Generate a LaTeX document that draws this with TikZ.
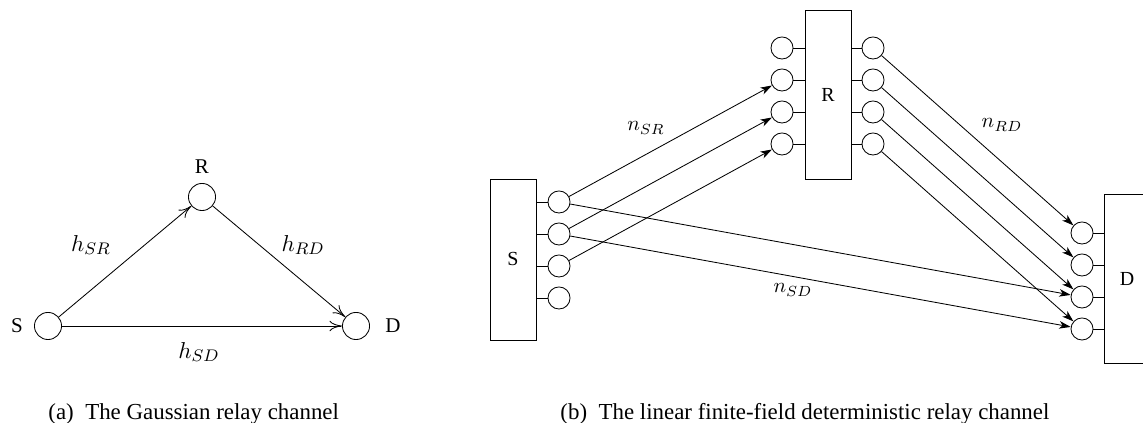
\documentclass[tikz,border=0pt]{standalone}
\usepackage{fontspec}
\setmainfont{Liberation Serif}
\usetikzlibrary{arrows.meta}

\begin{document}
\begin{tikzpicture}[x=0.476pt,y=0.476pt,
  bigdot/.style={draw,circle,inner sep=0pt,minimum size=12.9pt},
  smalldot/.style={draw,circle,inner sep=0pt,minimum size=10.5pt},
  blockbox/.style={draw,inner sep=0pt,minimum width=21.9pt,font=\fontsize{9.5}{11}\selectfont},
  gainlabel/.style={font=\fontsize{11}{13}\selectfont},
  levellabel/.style={font=\fontsize{10}{12}\selectfont},
  caplabel/.style={anchor=base west,inner sep=0pt,font=\fontsize{10.9}{13}\selectfont},
  gauss/.style={-{To[length=6pt,width=5pt]}},
  linear/.style={-{Stealth[length=5.5pt,width=3.6pt,inset=1.6pt]}}]
\useasboundingbox (0,0) rectangle (1143,423);

\node[bigdot] (gs) at (48,97) {};
\node[bigdot] (gr) at (202,226) {};
\node[bigdot] (gd) at (356,97) {};
\node at (17,97) {S};
\node at (202,256) {R};
\node at (393,97) {D};
\draw[gauss] (gs) -- (gr);
\draw[gauss] (gr) -- (gd);
\draw[gauss] (gs) -- (gd);
\node[gainlabel] at (91,178) {$h_{SR}$};
\node[gainlabel] at (303,178) {$h_{RD}$};
\node[gainlabel] at (199,71) {$h_{SD}$};

\node[blockbox,minimum height=76.6pt] (sbox) at (513,163.5) {S};
\node[smalldot] (s1) at (559,221) {};
\node[smalldot] (s2) at (559,189) {};
\node[smalldot] (s3) at (559,157) {};
\node[smalldot] (s4) at (559,125) {};
\draw (sbox.east |- s1) -- (s1);
\draw (sbox.east |- s2) -- (s2);
\draw (sbox.east |- s3) -- (s3);
\draw (sbox.east |- s4) -- (s4);

\node[blockbox,minimum height=80.4pt] (rbox) at (828,328.5) {R};
\node[smalldot] (ri1) at (782,375) {};
\node[smalldot] (ri2) at (782,343) {};
\node[smalldot] (ri3) at (782,311) {};
\node[smalldot] (ri4) at (782,279) {};
\node[smalldot] (ro1) at (873,375) {};
\node[smalldot] (ro2) at (873,343) {};
\node[smalldot] (ro3) at (873,311) {};
\node[smalldot] (ro4) at (873,279) {};
\draw (rbox.west |- ri1) -- (ri1);
\draw (rbox.west |- ri2) -- (ri2);
\draw (rbox.west |- ri3) -- (ri3);
\draw (rbox.west |- ri4) -- (ri4);
\draw (rbox.east |- ro1) -- (ro1);
\draw (rbox.east |- ro2) -- (ro2);
\draw (rbox.east |- ro3) -- (ro3);
\draw (rbox.east |- ro4) -- (ro4);

\node[blockbox,minimum height=80.4pt] (dbox) at (1127,144.5) {D};
\node[smalldot] (d1) at (1082,190) {};
\node[smalldot] (d2) at (1082,158) {};
\node[smalldot] (d3) at (1082,126) {};
\node[smalldot] (d4) at (1082,94) {};
\draw (dbox.west |- d1) -- (d1);
\draw (dbox.west |- d2) -- (d2);
\draw (dbox.west |- d3) -- (d3);
\draw (dbox.west |- d4) -- (d4);

\draw[linear] (s1) -- (ri2);
\draw[linear] (s2) -- (ri3);
\draw[linear] (s3) -- (ri4);
\draw[linear] (s1) -- (d3);
\draw[linear] (s2) -- (d4);
\draw[linear] (ro1) -- (d1);
\draw[linear] (ro2) -- (d2);
\draw[linear] (ro3) -- (d3);
\draw[linear] (ro4) -- (d4);
\node[levellabel] at (646,295) {$n_{SR}$};
\node[levellabel] at (1002,298) {$n_{RD}$};
\node[levellabel] at (793,133) {$n_{SD}$};

\node[caplabel] (capa) at (48,3) {(a)\enspace The Gaussian relay channel};
\node[caplabel] (capb) at (560,3) {(b)\enspace The linear finite-field deterministic relay channel};
\end{tikzpicture}
\end{document}
